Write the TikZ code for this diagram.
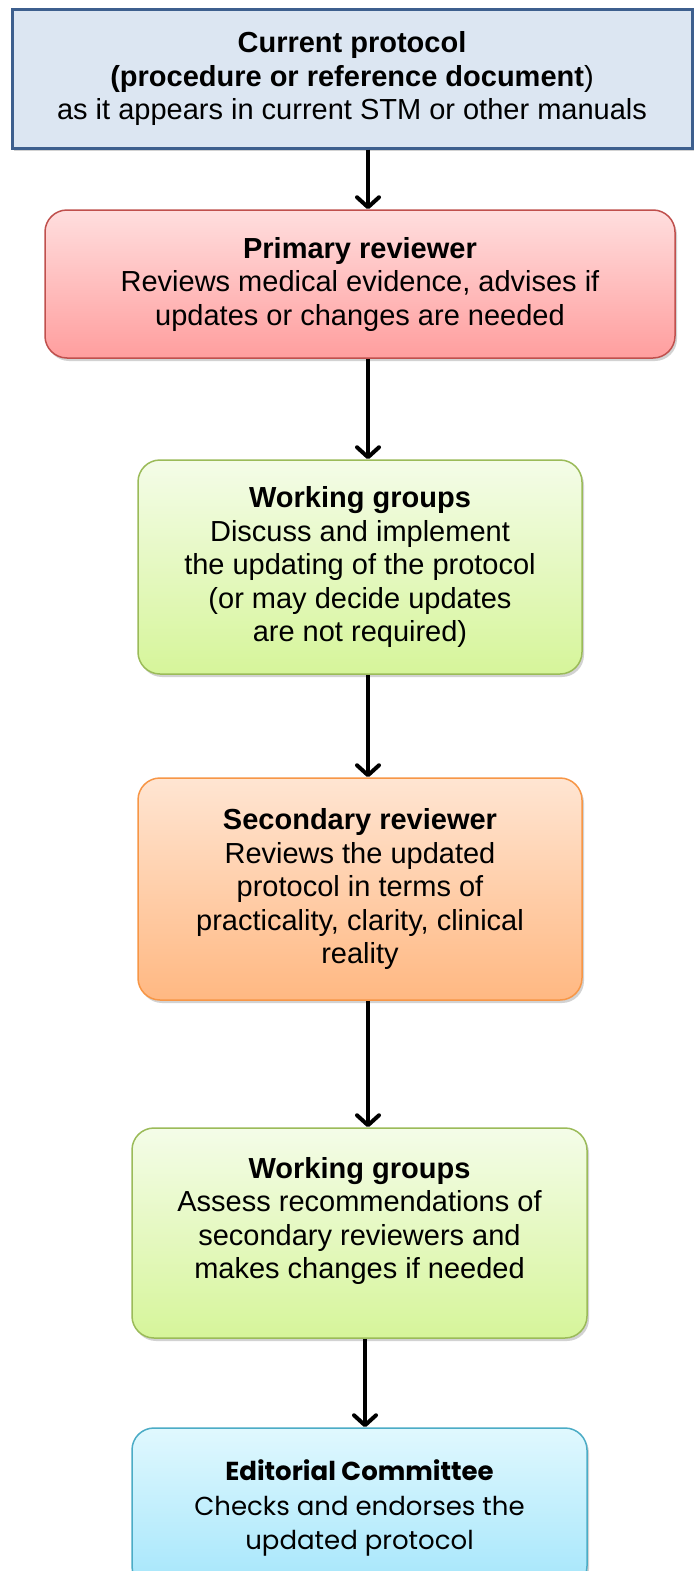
\documentclass[tikz,border=0pt]{standalone}
\usepackage{fontspec}
\setmainfont{Liberation Sans}
\newfontfamily\edfont{Poppins}
\usetikzlibrary{arrows.meta,shadows}

\definecolor{curfill}{HTML}{DCE6F2}
\definecolor{curline}{HTML}{3D5F8E}
\definecolor{redtop}{HTML}{FFDEDE}
\definecolor{redbot}{HTML}{FF9E9E}
\definecolor{redline}{HTML}{C0504D}
\definecolor{greentop}{HTML}{F4FCE8}
\definecolor{greenbot}{HTML}{D6F59A}
\definecolor{greenline}{HTML}{9BBB59}
\definecolor{orangetop}{HTML}{FFE5D2}
\definecolor{orangebot}{HTML}{FFB882}
\definecolor{orangeline}{HTML}{F79646}
\definecolor{bluetop}{HTML}{E0F8FE}
\definecolor{bluebot}{HTML}{A5E6FB}
\definecolor{blueline}{HTML}{4BACC6}

\tikzset{
  stagebox/.style={rounded corners=22pt, draw, line width=1.5pt, align=center,
    font=\fontsize{29}{33.5}\selectfont, inner sep=0pt,
    drop shadow={shadow xshift=2pt, shadow yshift=-3pt, opacity=0.35}},
  flow/.style={line width=4pt, -{Straight Barb[length=10pt,width=22pt,round]}}
}

\begin{document}
\begin{tikzpicture}[x=1pt, y=-1pt]
  \clip (0,0) rectangle (696,1571);
  \fill[white] (0,0) rectangle (696,1571);

  % current protocol
  \node[draw=curline, fill=curfill, line width=3pt, align=center,
    font=\fontsize{29}{33.5}\selectfont, inner sep=0pt,
    minimum width=680pt, minimum height=138pt,
    drop shadow={shadow xshift=2pt, shadow yshift=-3pt, opacity=0.35}]
    (cur) at (352,79)
    {\textbf{Current protocol}\\\textbf{(procedure or reference document})\\as it appears in current STM or other manuals};

  % primary reviewer
  \node[stagebox, draw=redline, top color=redtop, bottom color=redbot,
    minimum width=630pt, minimum height=148pt] (prim) at (360,284)
    {\textbf{Primary reviewer}\\Reviews medical evidence, advises if\\updates or changes are needed};

  % working groups (first round)
  \node[stagebox, draw=greenline, top color=greentop, bottom color=greenbot,
    minimum width=444pt, minimum height=214pt] (wgone) at (360,567)
    {\textbf{Working groups}\\Discuss and implement\\the updating of the protocol\\(or may decide updates\\are not required)};

  % secondary reviewer
  \node[stagebox, draw=orangeline, top color=orangetop, bottom color=orangebot,
    minimum width=444pt, minimum height=222pt] (sec) at (360,889)
    {\textbf{Secondary reviewer}\\Reviews the updated\\protocol in terms of\\practicality, clarity, clinical\\reality};

  % working groups (second round)
  \node[stagebox, draw=greenline, top color=greentop, bottom color=greenbot,
    minimum width=455pt, minimum height=210pt] (wgtwo) at (359.5,1233)
    {\textbf{Working groups}\\Assess recommendations of\\secondary reviewers and\\makes changes if needed\\[-3pt]};

  % editorial committee
  \node[stagebox, draw=blueline, top color=bluetop, bottom color=bluebot,
    minimum width=455pt, minimum height=160pt, font=\edfont\fontsize{26}{34.5}\selectfont]
    (ed) at (359.5,1508)
    {\textbf{Editorial Committee}\\Checks and endorses the\\updated protocol};

  % connectors
  \draw[flow] (cur.south -| 368,0) -- (prim.north -| 368,0);
  \draw[flow] (prim.south -| 368,0) -- (wgone.north -| 368,0);
  \draw[flow] (wgone.south -| 368,0) -- (sec.north -| 368,0);
  \draw[flow] (sec.south -| 368,0) -- (wgtwo.north -| 368,0);
  \draw[flow] (wgtwo.south -| 365,0) -- (ed.north -| 365,0);
\end{tikzpicture}
\end{document}
